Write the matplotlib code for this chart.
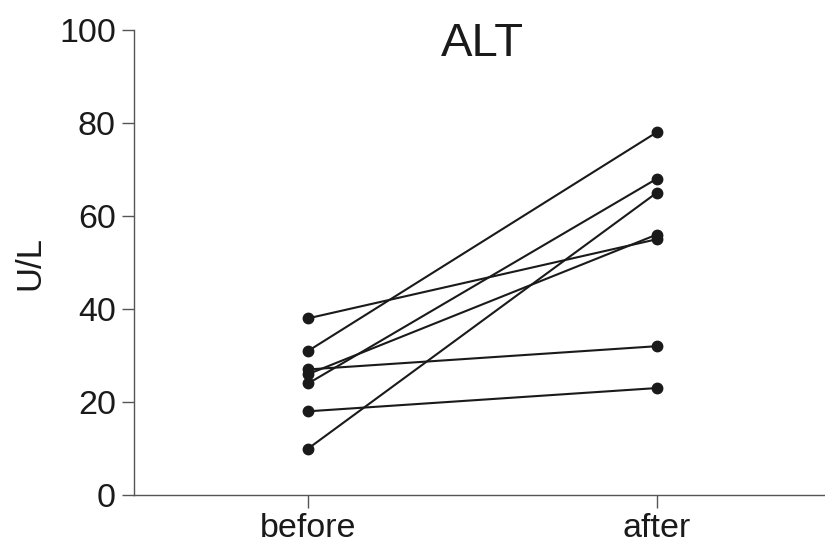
import matplotlib
matplotlib.use("Agg")
import matplotlib.pyplot as plt

plt.rcParams['font.family'] = ['Liberation Sans', 'DejaVu Sans']

categories = ["before", "after"]
before = [38, 31, 27, 26, 24, 18, 10]
after = [55, 78, 32, 56, 68, 23, 65]
yticks = [0, 20, 40, 60, 80, 100]

fig = plt.figure(figsize=(8.25, 5.48), dpi=100)
ax = fig.add_axes([134/825, 53/548, 697/825, 465/548])

for b, a in zip(before, after):
    ax.plot([0, 1], [b, a], color='#1a1a1a', lw=1.5, marker='o', ms=7.5,
            markerfacecolor='#1a1a1a', markeredgecolor='#1a1a1a', clip_on=False)

ax.set_xlim(-0.5, 1.5)
ax.set_ylim(0, 100)
ax.set_xticks([0, 1])
ax.set_xticklabels(categories)
ax.set_yticks(yticks)
ax.spines['top'].set_visible(False)
ax.spines['right'].set_visible(False)
for s in ['left', 'bottom']:
    ax.spines[s].set_color('#555555')
    ax.spines[s].set_linewidth(1.0)
ax.tick_params(axis='both', length=9, width=1.0, color='#555555', labelsize=24.5,
               labelcolor='#1a1a1a', pad=4)
ax.set_ylabel("U/L", fontsize=25, color='#1a1a1a')
ax.yaxis.set_label_coords(-(134 - 46) / 697, 0.5)
ax.set_title("ALT", fontsize=34, color='#1a1a1a', pad=0, y=0.945)

fig.savefig("out.png", dpi=100)
